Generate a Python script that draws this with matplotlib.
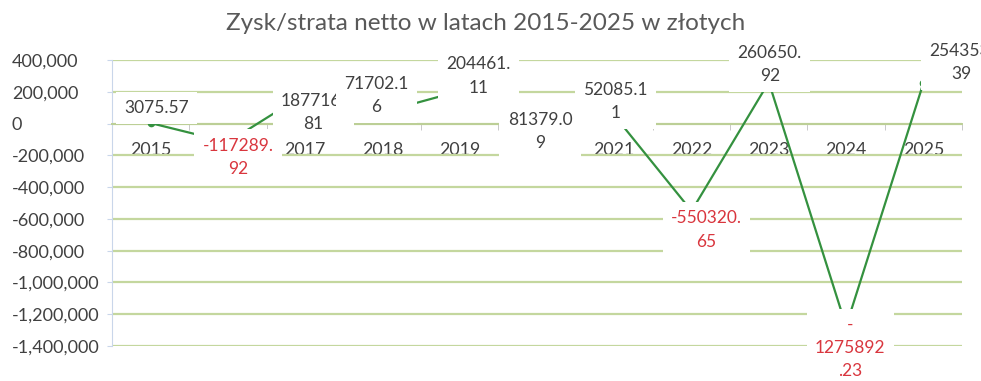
import numpy as np
import matplotlib.pyplot as plt
from matplotlib.ticker import FuncFormatter, FixedLocator

plt.rcParams['font.family'] = ['Lato', 'DejaVu Sans']

# yearly net result (PLN)
years = ['2015', '2016', '2017', '2018', '2019', '2020',
         '2021', '2022', '2023', '2024', '2025']
values = [3075.57, -117289.92, 187716.81, 71702.16, 204461.11, 81379.09,
          52085.11, -550320.65, 260650.92, -1275892.23, 254353.39]
# data labels as they wrap in the chart
labels = ['3075.57', '-117289.\n92', '187716.\n81', '71702.1\n6', '204461.\n11',
          '81379.0\n9', '52085.1\n1', '-550320.\n65', '260650.\n92',
          '-\n1275892\n.23', '254353.\n39']
yticks = list(range(-1400000, 400001, 200000))

# label offsets from each point, in pixels (dx right, dy down)
offsets = [(6, -15), (10, 15), (8, 19), (-6, -17), (19, -15), (3, 21),
           (1, -14), (15, 19), (1, -18), (4, 22), (38, -21)]

W, H = 981, 381
fig = plt.figure(figsize=(W / 100, H / 100), dpi=100)
ax = fig.add_axes([112 / W, 35 / H, 850 / W, 286 / H])

x = np.arange(len(years))
ax.plot(x, values, color='#34913f', lw=1.6, marker='o', ms=4.5, zorder=3)

ax.set_xlim(-0.5, len(years) - 0.5)
ax.set_ylim(yticks[0], yticks[-1])

# horizontal grid
ax.yaxis.set_major_locator(FixedLocator(yticks))
ax.yaxis.set_major_formatter(FuncFormatter(lambda v, p: f'{v:,.0f}'))
ax.grid(axis='y', color='#c4d79e', lw=1.6)
ax.set_axisbelow(True)

for s in ['top', 'right']:
    ax.spines[s].set_visible(False)
ax.spines['left'].set_color('#c9d6ea')
ax.spines['bottom'].set_position(('data', 0))
ax.spines['bottom'].set_color('#bccf96')
ax.spines['bottom'].set_linewidth(1.4)

ax.tick_params(axis='y', length=3.6, color='#c9d6ea', pad=68.4,
               labelsize=13, labelcolor='#404040')
plt.setp(ax.get_yticklabels(), ha='left')

# category axis sits on the zero line
ax.set_xticks(x)
ax.set_xticklabels(years)
ax.set_xticks(np.arange(-0.5, len(years), 1), minor=True)
ax.tick_params(axis='x', which='major', length=0, pad=13.5,
               labelsize=12.8, labelcolor='#404040')
ax.tick_params(axis='x', which='minor', length=4, color='#bfbfbf')

for i, (v, lab, (dx, dy)) in enumerate(zip(values, labels, offsets)):
    ax.annotate(lab, (i, v), xytext=(dx * 0.72, -dy * 0.72),
                textcoords='offset points', ha='center', va='center',
                multialignment='center', fontsize=12.5, linespacing=1.55,
                color='#d9363e' if v < 0 else '#404040',
                bbox=dict(boxstyle='square,pad=0.48', fc='white', ec='none'),
                zorder=5)

fig.text(486 / W, 1 - 24 / H, 'Zysk/strata netto w latach 2015-2025 w złotych',
         ha='center', va='center', fontsize=17.5, color='#595959')

fig.savefig('out.png', dpi=100)
